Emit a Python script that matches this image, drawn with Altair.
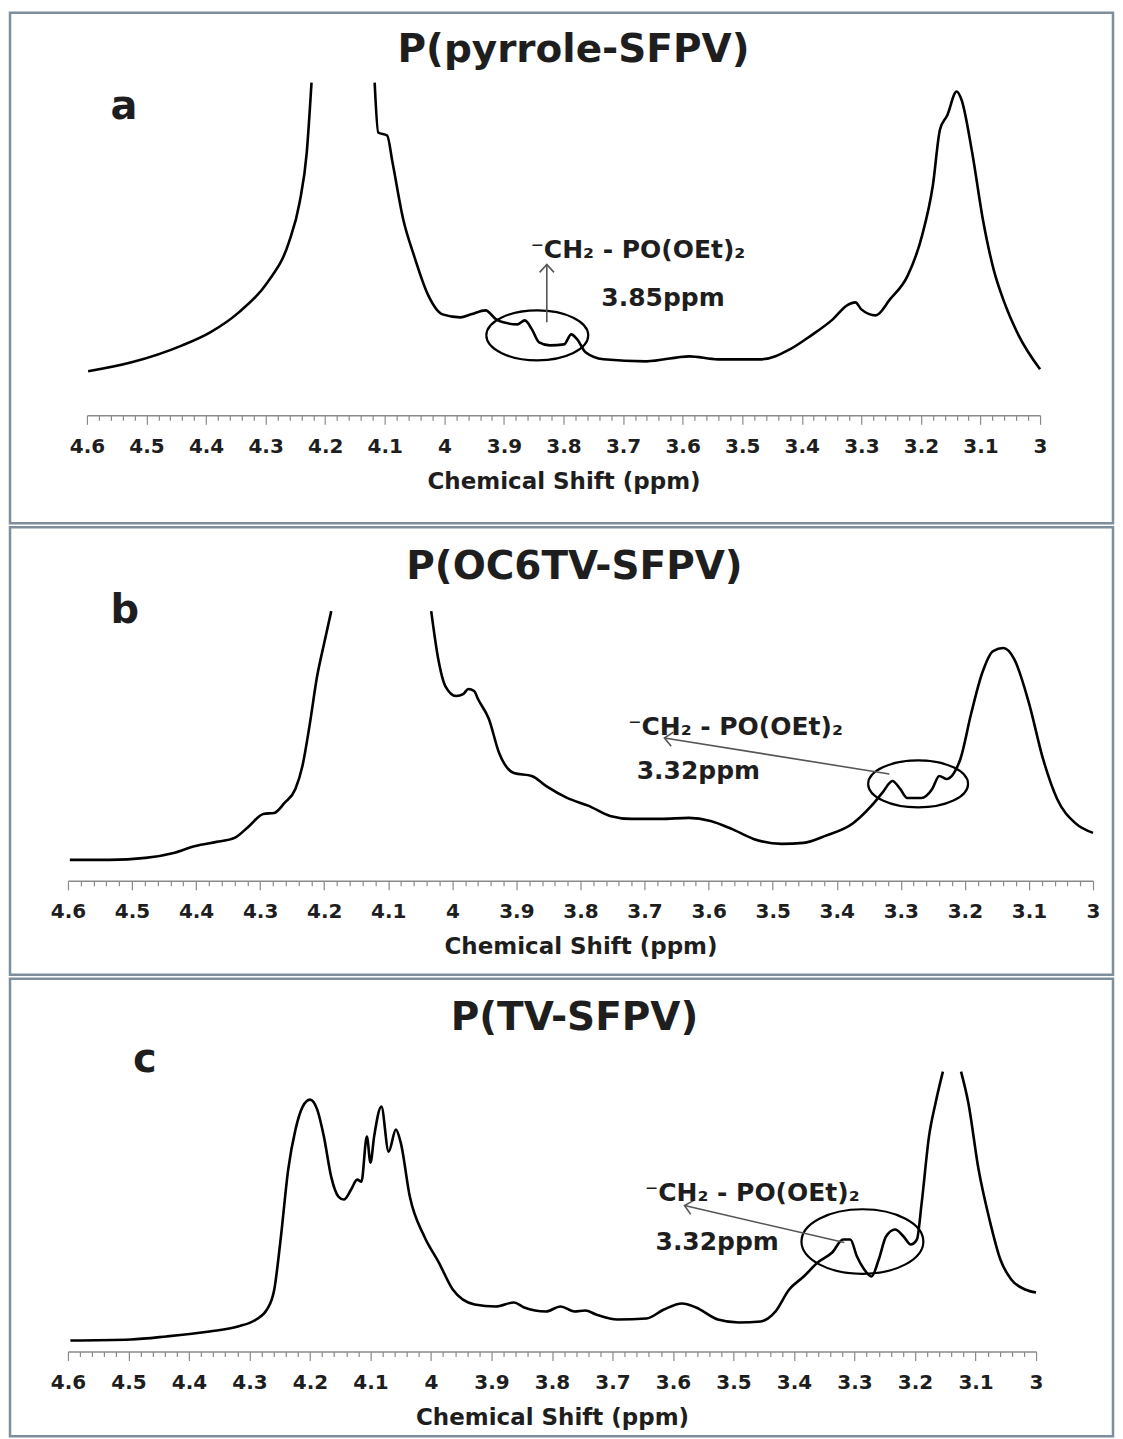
import altair as alt
import pandas as pd

# ---------------- data (ppm, intensity a.u.) ----------------
# Panel a : P(pyrrole-SFPV)  (the 4.2-4.1 peak is cut at the top of the plot)
a_left_ppm = [4.598, 4.525, 4.44, 4.393, 4.345, 4.297, 4.261, 4.243, 4.231, 4.223]
a_left_int = [44, 53, 70, 83, 103, 133, 173, 213, 263, 333]
a_right_ppm = [4.117, 4.111, 4.096, 4.087, 4.069, 4.051, 4.027, 4.003, 3.973, 3.955,
               3.931, 3.913, 3.901, 3.877, 3.865, 3.853, 3.841, 3.823, 3.799, 3.787,
               3.777, 3.763, 3.733, 3.661, 3.589, 3.541, 3.468, 3.42, 3.384, 3.348,
               3.324, 3.31, 3.30, 3.276, 3.252, 3.222, 3.198, 3.18, 3.168, 3.156,
               3.14, 3.132, 3.114, 3.096, 3.078, 3.06, 3.036, 3.0]
a_right_int = [333, 283, 280, 253, 196, 160, 120, 101, 98, 101,
               105, 96, 93, 91, 95, 86, 73, 70, 71, 81,
               76, 63, 56, 54, 59, 56, 56, 66, 80, 96,
               110, 113, 106, 100, 116, 140, 180, 230, 286, 300,
               324, 316, 263, 196, 146, 113, 80, 46]

# Panel b : P(OC6TV-SFPV)
b_left_ppm = [4.597, 4.535, 4.479, 4.435, 4.401, 4.368, 4.34, 4.317, 4.295, 4.278,
              4.262, 4.245, 4.234, 4.223, 4.211, 4.2, 4.189]
b_left_int = [21, 21, 23, 28, 35, 39, 43, 55, 67, 68, 78, 92, 115, 155, 205, 238, 270]
b_right_ppm = [4.033, 4.022, 4.011, 3.994, 3.983, 3.975, 3.966, 3.96, 3.943, 3.927,
               3.904, 3.876, 3.854, 3.821, 3.787, 3.754, 3.72, 3.675, 3.631, 3.597,
               3.564, 3.53, 3.486, 3.452, 3.418, 3.374, 3.346, 3.329, 3.313, 3.301,
               3.29, 3.268, 3.251, 3.24, 3.229, 3.218, 3.207, 3.19, 3.173, 3.156,
               3.14, 3.123, 3.1, 3.078, 3.056, 3.028, 3.0]
b_right_int = [270, 222, 195, 185, 187, 192, 190, 182, 162, 128,
               108, 105, 95, 83, 75, 65, 62, 62, 63, 60,
               52, 42, 37, 38, 45, 58, 75, 88, 100, 92,
               83, 83, 92, 105, 102, 107, 122, 168, 208, 230,
               233, 222, 178, 122, 82, 58, 48]

# Panel c : P(TV-SFPV)  (the 3.14 peak is cut at the top of the plot)
c_left_ppm = [4.596, 4.496, 4.437, 4.366, 4.319, 4.289, 4.271, 4.259, 4.248, 4.236,
              4.224, 4.212, 4.2, 4.188, 4.177, 4.165, 4.153, 4.144, 4.132, 4.122,
              4.115, 4.106, 4.1, 4.094, 4.082, 4.07, 4.058, 4.05, 4.035, 4.011,
              3.987, 3.964, 3.928, 3.893, 3.863, 3.846, 3.81, 3.786, 3.763, 3.745,
              3.727, 3.692, 3.644, 3.615, 3.585, 3.562, 3.526, 3.491, 3.455, 3.432,
              3.408, 3.384, 3.361, 3.337, 3.319, 3.307, 3.296, 3.284, 3.272, 3.26,
              3.248, 3.233, 3.219, 3.207, 3.197, 3.189, 3.177, 3.166, 3.154]
c_left_int = [11, 12, 15, 20, 25, 32, 42, 62, 115, 182,
              222, 245, 252, 242, 215, 175, 155, 152, 162, 172,
              170, 215, 189, 215, 245, 200, 222, 209, 155, 115,
              89, 62, 47, 45, 49, 44, 40, 45, 40, 41,
              37, 32, 33, 42, 48, 44, 32, 29, 30, 39,
              62, 75, 89, 99, 112, 112, 95, 82, 75, 92,
              115, 122, 115, 107, 112, 149, 215, 249, 280]
c_right_ppm = [3.124, 3.112, 3.095, 3.077, 3.059, 3.041, 3.018, 3.0]
c_right_int = [280, 249, 182, 132, 92, 72, 62, 59]

# annotation anchors (ppm, intensity)
circle_a = (3.844, 80)
circle_b = (3.273, 97)
circle_c = (3.287, 110)
arrow_a = (3.828, 93, 3.828, 151)
arrow_b = (3.318, 107, 3.669, 143)
arrow_c = (3.317, 109, 3.581, 146)
group_label = "⁻CH₂ - PO(OEt)₂"
group_pos_a = (3.675, 165)
group_pos_b = (3.558, 154)
group_pos_c = (3.469, 159)
shift_a = ("3.85ppm", 3.633, 117)
shift_b = ("3.32ppm", 3.616, 110)
shift_c = ("3.32ppm", 3.527, 110)

titles = ["P(pyrrole-SFPV)", "P(OC6TV-SFPV)", "P(TV-SFPV)"]
letters = ["a", "b", "c"]
axis_title = "Chemical Shift (ppm)"

major_ticks = [4.6, 4.5, 4.4, 4.3, 4.2, 4.1, 4.0, 3.9, 3.8, 3.7, 3.6, 3.5, 3.4, 3.3, 3.2, 3.1, 3.0]
minor_ticks = [round(4.6 - 0.02 * i, 2) for i in range(81)]

# ---------------- styling ----------------
FONT = "DejaVu Sans"
INK = "#1e1e1e"
TEST_MAJOR = "abs(datum.value*10 - round(datum.value*10)) < 0.001"


def ellipse_path(ry):
    k = 0.5523
    return (f"M-1,0C-1,{-ry*k:.3f},{-k:.3f},{-ry:.3f},0,{-ry:.3f}"
            f"C{k:.3f},{-ry:.3f},1,{-ry*k:.3f},1,0"
            f"C1,{ry*k:.3f},{k:.3f},{ry:.3f},0,{ry:.3f}"
            f"C{-k:.3f},{ry:.3f},-1,{ry*k:.3f},-1,0Z")


CHEVRON = "M-0.9,1L0,0L0.9,1"


def panel(left, right, xr, H, axis_y, top, circle, ell_w, ell_ry, arrow, head_angle,
          grp_pos, shift, title, title_xy, letter, letter_xy):
    curve = pd.concat([
        pd.DataFrame({"ppm": left[0], "intensity": left[1], "seg": "L"}),
        pd.DataFrame({"ppm": right[0], "intensity": right[1], "seg": "R"}),
    ])
    axis = alt.Axis(
        values=minor_ticks,
        labelExpr=f"{TEST_MAJOR} ? toString(round(datum.value*10)/10) : ''",
        tickSize={"condition": {"test": TEST_MAJOR, "value": 9}, "value": 5},
        offset=-(H - axis_y),
        grid=False,
        domainColor="#8a8a8a", domainWidth=1.5,
        tickColor="#8a8a8a", tickWidth=1.2,
        labelFont=FONT, labelFontSize=20, labelFontWeight="bold", labelColor=INK,
        labelPadding=12, labelOverlap=False, labelFlush=False,
        title=axis_title, titleFont=FONT, titleFontSize=23, titleFontWeight="bold",
        titleColor=INK, titlePadding=14,
    )
    xs = alt.Scale(domain=[4.6, 3.0], range=xr)
    ys = alt.Scale(domain=[0, top], range=[axis_y, axis_y - top])

    def X(f):
        return alt.X(f, type="quantitative", scale=xs, axis=axis)

    def Y(f):
        return alt.Y(f, type="quantitative", scale=ys, axis=None)

    line = alt.Chart(curve).mark_line(color="black", strokeWidth=2.6, strokeJoin="round",
                                      interpolate="monotone").encode(
        x=X("ppm"), y=Y("intensity"), detail="seg:N",
        order=alt.Order("ppm", sort="descending"))

    circ = alt.Chart(pd.DataFrame({"ppm": [circle[0]], "intensity": [circle[1]]})).mark_point(
        shape=ellipse_path(ell_ry), size=ell_w * ell_w, filled=False, stroke="black",
        strokeWidth=2.2, opacity=1).encode(x=X("ppm"), y=Y("intensity"))

    adf = pd.DataFrame({"ppm": [arrow[0]], "intensity": [arrow[1]],
                        "ppm_end": [arrow[2]], "int_end": [arrow[3]]})
    rule = alt.Chart(adf).mark_rule(color="#555555", strokeWidth=1.6).encode(
        x=X("ppm"), y=Y("intensity"), x2="ppm_end", y2="int_end")
    head = alt.Chart(adf).mark_point(shape=CHEVRON, size=256, filled=False, stroke="#555555",
                                     strokeWidth=1.6, opacity=1, angle=head_angle).encode(
        x=X("ppm_end"), y=Y("int_end"))

    tdf = pd.DataFrame({"ppm": [grp_pos[0], shift[1]], "intensity": [grp_pos[1], shift[2]],
                        "label": [group_label, shift[0]]})
    texts = alt.Chart(tdf).mark_text(font=FONT, fontSize=25, fontWeight="bold", color=INK,
                                     align="center", baseline="middle").encode(
        x=X("ppm"), y=Y("intensity"), text="label:N")

    ttl = alt.Chart(pd.DataFrame({"label": [title]})).mark_text(
        font=FONT, fontSize=39, fontWeight="bold", color=INK, align="center",
        baseline="alphabetic").encode(x=alt.value(title_xy[0]), y=alt.value(title_xy[1]),
                                      text="label:N")
    let = alt.Chart(pd.DataFrame({"label": [letter]})).mark_text(
        font=FONT, fontSize=40, fontWeight="bold", color=INK, align="center",
        baseline="alphabetic").encode(x=alt.value(letter_xy[0]), y=alt.value(letter_xy[1]),
                                      text="label:N")

    return alt.layer(line, circ, rule, head, texts, ttl, let).properties(width=1104, height=H)


W_a = panel((a_left_ppm, a_left_int), (a_right_ppm, a_right_int), [77, 1031], 511, 403, 333,
            circle_a, 102, 0.49, arrow_a, 0, group_pos_a, shift_a,
            titles[0], (564, 49), letters[0], (114, 106))
W_b = panel((b_left_ppm, b_left_int), (b_right_ppm, b_right_int), [58, 1084], 448, 354, 270,
            circle_b, 100, 0.47, arrow_b, 279, group_pos_b, shift_b,
            titles[1], (565, 52), letters[1], (115, 96))
W_c = panel((c_left_ppm, c_left_int), (c_right_ppm, c_right_int), [58, 1027], 458, 373, 280,
            circle_c, 122, 0.53, arrow_c, 283, group_pos_c, shift_c,
            titles[2], (565, 51), letters[2], (135, 93))

chart = alt.vconcat(W_a, W_b, W_c, spacing=0).properties(
    padding={"left": 0, "top": 2, "right": 0, "bottom": 0},
    background="white",
).configure_view(stroke="#7f8e9c", strokeWidth=2.5)

chart.save("out.html", embed_options={"renderer": "svg", "actions": False})
